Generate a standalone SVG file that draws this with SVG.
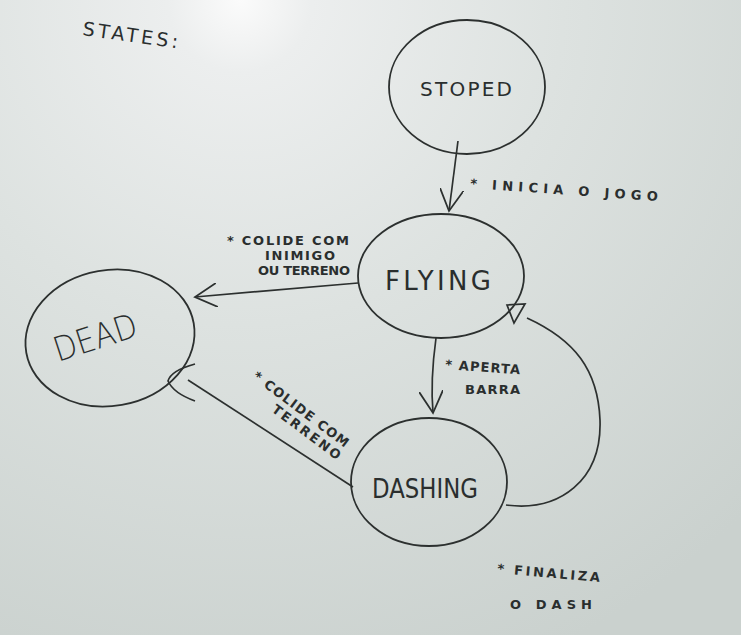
<svg xmlns="http://www.w3.org/2000/svg" width="741" height="635" viewBox="0 0 741 635">
<defs>
<radialGradient id="bg" cx="240" cy="0" r="720" gradientUnits="userSpaceOnUse">
<stop offset="0" stop-color="#fbfbfb"/>
<stop offset="0.1" stop-color="#eceeee"/>
<stop offset="0.45" stop-color="#dde2e0"/>
<stop offset="1" stop-color="#cad1ce"/>
</radialGradient>
<marker id="v2" viewBox="0 0 12 12" refX="11" refY="6" markerWidth="24" markerHeight="24" markerUnits="userSpaceOnUse" orient="auto">
<path d="M0,0 L11,6 L0,12" fill="none" stroke="#2c302f" stroke-width="0.9"/>
</marker>
</defs>
<style>
.n{fill:none;stroke:#2c302f;stroke-width:1.8}
.e{fill:none;stroke:#2c302f;stroke-width:1.7}
.t{font-family:"DejaVu Sans","Liberation Sans",sans-serif;fill:#2a2e2e}
.l{font-family:"DejaVu Sans","Liberation Sans",sans-serif;fill:#2a2e2e;font-size:13px;font-weight:bold}
</style>
<rect width="741" height="635" fill="url(#bg)"/>
<text class="t" x="82" y="35" font-size="19" transform="rotate(8 82 35)" textLength="96" lengthAdjust="spacing">STATES:</text>
<g id="stoped">
<ellipse class="n" cx="467" cy="87" rx="78" ry="67"/>
<text class="t" x="420" y="96" font-size="20" textLength="92" lengthAdjust="spacing">STOPED</text>
</g>
<g id="flying">
<ellipse class="n" cx="441" cy="276" rx="83" ry="62"/>
<text class="t" x="385" y="290" font-size="26" textLength="106" lengthAdjust="spacing">FLYING</text>
</g>
<g id="dead">
<ellipse class="n" cx="110" cy="338" rx="85" ry="68" transform="rotate(-10 110 338)"/>
<text class="t" x="58" y="362" font-size="34" font-weight="200" transform="rotate(-18 58 362)" textLength="86" lengthAdjust="spacingAndGlyphs">DEAD</text>
</g>
<g id="dashing">
<ellipse class="n" cx="429" cy="482" rx="78" ry="64"/>
<text class="t" x="372" y="498" font-size="26" textLength="106" lengthAdjust="spacingAndGlyphs">DASHING</text>
</g>
<g id="connectors">
<path class="e" d="M458,141 L449,211" marker-end="url(#v2)"/>
<path class="e" d="M358,283 C300,288 250,292 195,297" marker-end="url(#v2)"/>
<path class="e" d="M436,338 C433,360 431,390 433,413" marker-end="url(#v2)"/>
<path class="e" d="M353,487 L188,380"/>
<path class="e" d="M195,364 C180,368 170,374 168,381 C172,390 184,397 195,401"/>
<path class="e" d="M506,505 C560,512 602,480 600,420 C598,370 575,340 527,318"/>
<path class="e" d="M507,305 L525,304 L514,323 Z" stroke-width="1.2"/>
<text class="l" x="470" y="188" transform="rotate(4 470 188)" textLength="188" lengthAdjust="spacing">* INICIA  O  JOGO</text>
<text class="l" x="227" y="245" textLength="122" lengthAdjust="spacing">* COLIDE COM</text>
<text class="l" x="265" y="260" textLength="70" lengthAdjust="spacing">INIMIGO</text>
<text class="l" x="258" y="275" textLength="92" lengthAdjust="spacing">OU TERRENO</text>
<text class="l" x="445" y="369" transform="rotate(4 445 369)" textLength="75" lengthAdjust="spacing">* APERTA</text>
<text class="l" x="465" y="394" textLength="55" lengthAdjust="spacing">BARRA</text>
<text class="l" x="252" y="378" transform="rotate(37 252 378)" textLength="116" lengthAdjust="spacing">* COLIDE COM</text>
<text class="l" x="271" y="411" transform="rotate(37 271 411)" textLength="82" lengthAdjust="spacing">TERRENO</text>
<text class="l" x="497" y="573" transform="rotate(5 497 573)" textLength="103" lengthAdjust="spacing">* FINALIZA</text>
<text class="l" x="510" y="609" textLength="82" lengthAdjust="spacing">O  DASH</text>
</g>
</svg>
